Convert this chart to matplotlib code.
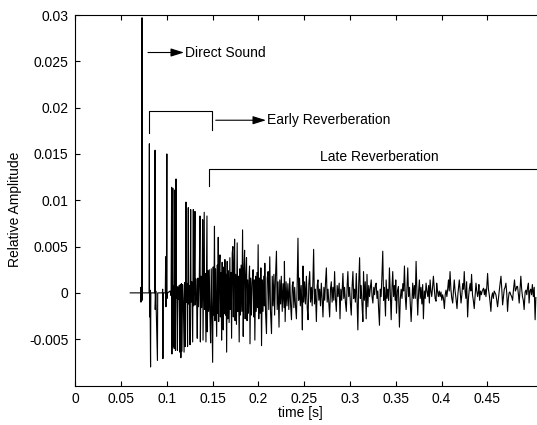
import numpy as np
import matplotlib
matplotlib.use("Agg")
import matplotlib.pyplot as plt

# times in ms, amplitudes in units of 1e-3
direct_ms = [60.0, 71.3, 71.6, 71.7, 72.0, 72.85, 72.9, 72.95, 73.3]
direct_amp = [0, 0, 0.6, -1.0, 0, 0, 29.7, -0.8, 0]

early = [
    (80.6, 0), (80.9, 16.1), (81.1, -2.6), (81.6, 0.3), (82.2, -8.0), (82.5, 0),
    (86.8, 0), (87.1, 15.4), (87.3, -1.8), (87.9, 0.2), (89.7, -7.3), (90.0, 0),
    (95.1, 0), (95.4, 0.4), (95.7, -7.1), (96.0, 0),
    (98.3, 0), (98.7, 3.9), (99.0, -1.5), (99.5, 0.3), (100.0, 15.0), (100.2, -0.6), (100.8, 0),
    (103.5, 0.2), (104.6, -0.3), (105.2, 11.4), (105.5, -6.6), (106.0, 0.6), (106.5, 11.3),
    (106.8, -5.8), (107.4, 0.8), (108.0, -6.0), (108.5, 11.1), (108.9, -0.8), (109.4, -6.2),
    (110.0, 12.3), (110.4, -0.6), (111.0, 0.7), (111.5, -6.2), (112.1, 0.6), (112.8, -0.7),
    (113.5, 0.8), (114.2, -6.4), (114.7, 0.9), (115.3, -7.0), (115.9, 1.0), (116.5, -6.3),
    (117.2, 0.9), (118.0, -0.9), (118.8, -6.4), (119.4, 1.1), (120.0, -5.8), (120.9, 9.8),
    (121.3, -1.0), (122.0, 1.0), (122.6, -5.8), (123.4, 9.2), (123.8, -1.2), (124.5, 0.8),
    (125.3, -5.6), (126.0, 9.0), (126.4, -1.0), (127.2, 1.2), (128.2, -5.3), (128.9, 9.0),
    (129.3, -1.4), (130.0, 1.3), (130.7, 8.8), (131.1, -1.3), (131.9, 1.5), (132.6, -1.2),
    (133.2, -4.9), (133.9, 1.6), (134.6, -1.5), (135.4, 1.4), (136.2, 8.3), (136.6, -5.3),
    (137.3, 1.8), (138.0, -1.6), (138.6, 2.0), (139.1, 7.9), (139.5, -5.1), (140.2, 1.9),
    (140.8, 8.7), (141.2, -1.8), (141.9, 2.1), (142.7, -5.3), (143.3, 1.8), (143.8, 8.3),
    (144.2, -4.2), (144.9, 2.4), (145.6, -2.0),
]

late_dense = [
    (146.3, 2.5), (147.0, -2.2), (147.8, -5.4), (148.5, 2.6), (149.2, -2.5), (150.0, -7.5),
    (150.6, 2.8), (151.3, -2.4), (152.0, 7.2), (152.5, -3.0), (153.2, 2.6), (154.0, -2.8),
    (154.4, -4.7), (155.1, 3.0), (155.6, -2.2), (156.1, 6.0), (156.6, -3.1), (157.3, 2.5),
    (158.0, 4.1), (158.5, -2.6), (159.2, 2.2), (159.8, -5.1), (160.4, 3.3), (161.0, -3.0),
    (161.6, -4.0), (162.3, 2.8), (162.9, -2.2), (163.4, 3.6), (164.0, -2.4), (164.6, 2.0),
    (165.3, -6.4), (165.9, 3.4), (166.5, -2.8), (167.2, 2.4), (168.0, -3.2), (168.8, 3.8),
    (169.4, -1.8), (170.0, 2.2), (170.7, -4.9), (171.4, 4.3), (172.1, 5.0), (172.6, -2.6),
    (173.3, 2.6), (174.0, 5.8), (174.5, -3.0), (175.2, 2.0), (176.0, -3.4), (176.8, 5.4),
    (177.4, -2.0), (178.2, 1.8), (179.0, -5.3), (179.7, 2.6), (180.4, -2.4), (181.1, 3.0),
    (181.9, -2.0), (182.7, 6.8), (183.4, -4.7), (184.1, 2.4), (184.9, 4.6), (185.5, -2.8),
    (186.2, 1.6), (187.0, 3.8), (187.6, -3.0), (188.3, 1.4), (189.1, -2.2), (189.8, 1.8),
    (190.3, 2.9), (190.8, -5.5), (191.6, 1.6), (192.4, -2.4), (193.2, 1.2), (194.2, 2.5),
    (194.9, -2.6), (195.5, 1.4), (196.1, -5.1), (196.9, 1.8), (197.6, -2.0), (198.4, 2.2),
    (199.0, -1.6), (199.7, 5.2), (200.4, -2.8), (201.2, 1.6), (202.0, -2.2), (202.7, 2.7),
    (203.4, -5.7), (204.2, 1.4), (205.0, -2.0), (205.8, 1.8), (206.5, -1.4), (207.0, 3.2),
    (207.8, -2.2), (208.8, -4.4), (209.6, 1.6), (210.6, 2.3), (211.3, -1.8), (212.4, 3.9),
    (213.2, -2.0), (214.3, -4.4), (215.1, 1.8), (216.0, -1.4), (216.9, 2.0), (217.7, -2.4),
    (218.6, 1.6), (219.7, 4.5), (220.5, -1.8), (221.4, 1.2), (222.5, -3.7), (223.3, 1.4),
    (224.2, -1.2), (225.0, 1.8), (226.0, -2.0), (226.9, 1.0), (228.0, -1.6), (228.4, 3.4),
    (229.2, -3.1), (230.2, 1.2), (231.2, -1.4), (232.2, 1.0), (233.2, -1.8), (234.2, 1.6),
    (235.1, -1.2), (236.1, -2.9), (237.0, 0.8), (237.8, 1.2), (238.7, -1.6), (239.6, 0.6),
    (240.5, -1.4), (241.5, -2.8), (242.4, 1.4), (243.2, 5.9), (244.0, -0.8), (244.9, 1.6),
    (245.8, -1.4), (246.7, 0.8), (247.5, -1.8), (248.0, -4.0), (248.7, 2.9), (249.5, -1.0),
    (250.4, 1.2), (251.3, -1.2), (252.4, 1.8), (253.3, -1.6), (254.2, -2.9), (255.1, 1.0),
    (256.0, 2.3), (256.9, -1.0), (257.8, 0.6), (258.7, -1.4), (259.5, 1.2),
]

late_tail = [
    (260.3, 4.7), (261.2, -1.2), (262.2, 0.4), (263.3, -3.1), (264.2, 0.8), (265.0, 1.4),
    (266.0, -0.8), (266.9, 0.4), (267.8, -1.4), (268.7, 1.05), (269.6, -0.6), (270.5, -2.6),
    (271.5, 0.6), (272.4, -0.8), (273.3, 1.2), (274.2, 2.7), (275.1, -1.0), (276.0, 0.4),
    (276.9, -1.2), (277.8, -2.6), (278.7, 0.4), (279.6, 1.2), (280.5, -1.0), (281.4, 0.6),
    (282.3, -0.8), (283.2, 2.3), (284.1, -0.6), (285.1, -2.0), (286.0, 0.8), (286.9, -0.4),
    (287.8, 0.6), (288.2, 1.05), (289.1, -2.8), (290.0, 0.4), (291.0, -0.8), (292.3, 2.1),
    (293.2, -0.6), (294.1, 0.6), (295.0, -1.0), (296.0, -2.0), (296.9, 0.8), (297.7, 2.3),
    (298.6, -0.4), (299.6, 0.6), (300.5, -1.2), (301.4, -2.4), (302.3, 0.6), (303.2, 2.3),
    (304.1, -0.6), (305.0, 0.4), (305.9, -1.0), (306.9, 2.1), (307.8, -1.2), (308.6, -4.0),
    (309.5, 0.8), (310.5, 3.8), (311.3, -0.6), (312.2, 0.8), (313.2, -1.4), (314.1, -3.1),
    (314.8, 2.3), (315.7, -0.8), (316.7, 1.2), (317.7, -2.8), (318.6, 2.0), (319.5, -1.5),
    (320.5, 0.8), (321.4, -0.4), (322.3, 0.6), (323.2, 1.4), (324.1, -0.4), (325.0, -1.1),
    (326.0, 0.6), (326.9, -0.2), (327.7, 0.8), (328.6, 1.05), (329.5, -0.6), (330.4, 0.2),
    (331.3, -1.8), (332.2, -3.5), (333.1, 0.4), (334.0, -0.4), (334.9, 1.8), (335.8, 4.5),
    (336.7, -0.8), (337.6, 0.6), (338.8, -2.5), (339.5, 1.4), (340.4, -0.6), (341.3, 0.4),
    (342.2, -0.8), (343.1, 2.7), (344.0, 0.2), (345.0, -2.9), (345.9, 0.6), (346.7, 2.3),
    (347.6, -0.4), (348.5, 0.8), (349.4, -0.8), (350.0, 1.4), (350.8, -2.2), (351.8, 0.2),
    (352.9, 0.7), (354.0, -3.7), (355.0, -0.6), (355.9, 0.4), (356.8, -0.6), (357.7, 1.0),
    (358.6, 0.2), (359.5, 2.9), (360.4, -0.4), (361.3, -1.8), (362.2, 0.6), (363.1, 2.7),
    (364.0, -0.4), (365.0, 0.6), (365.9, -1.2), (366.8, -3.1), (367.7, -0.8), (368.5, 1.05),
    (369.4, -0.6), (370.3, 0.8), (371.3, -0.6), (372.2, 3.4), (373.1, 0.2), (374.0, -2.4),
    (375.0, 0.2), (375.8, 1.4), (376.7, -0.6), (377.6, 0.6), (378.5, -1.2), (379.4, 0.9),
    (380.2, -2.8), (381.2, 0.2), (382.2, -0.6), (383.1, 1.05), (384.0, 0.2), (385.0, -0.4),
    (385.9, 0.8), (386.7, -1.1), (387.5, 1.4), (388.4, 0.2), (389.3, -0.4), (390.2, 0.6),
    (391.1, 1.8), (392.1, 0.4), (393.0, -0.6), (394.0, -0.9), (394.7, 1.05), (395.6, 0.2),
    (396.5, -0.4), (397.5, 0.2), (398.4, -0.4), (399.4, 0.1), (400.3, -0.8), (401.2, -0.2),
    (402.1, -0.6), (403.1, -1.7), (404.0, -0.2), (404.9, 0.3), (405.8, -0.4), (406.7, 0.4),
    (407.6, 1.4), (408.4, 0.2), (409.3, 2.3), (410.2, 0.4), (411.2, -0.6), (412.2, -1.1),
    (413.0, 0.2), (413.9, 1.4), (414.8, 0.2), (415.8, -0.6), (416.9, -1.7), (417.8, -0.2),
    (418.6, 0.6), (419.4, 1.4), (420.4, 0.0), (421.3, -1.1), (422.2, -0.2), (423.1, 1.0),
    (424.0, 0.4), (424.8, 2.3), (425.7, 0.2), (426.6, -0.6), (427.4, 1.2), (428.5, -2.6),
    (429.4, -0.6), (430.3, 0.4), (431.2, 1.0), (432.0, 0.2), (432.8, 2.0), (433.8, -0.2),
    (434.7, -0.8), (435.7, -1.7), (436.6, -0.4), (437.6, 1.05), (438.5, 0.2), (439.4, -0.4),
    (440.3, 0.2), (440.8, 0.9), (441.6, -0.8), (442.5, 0.2), (443.5, -0.2), (444.4, 0.2),
    (445.9, 0.5), (446.8, -0.2), (447.7, 0.4), (448.5, -0.4), (449.4, 0.6), (450.3, 2.1),
    (451.2, 0.4), (452.1, -0.2), (453.0, -1.0), (453.9, -2.0), (454.8, -0.4), (455.7, 0.0),
    (456.6, -0.6), (457.5, 0.2), (458.4, 0.0), (459.4, -0.2), (460.3, -0.8), (461.2, -1.5),
    (462.1, -0.6), (463.0, 0.2), (463.9, 1.0), (464.9, 1.8), (465.8, 0.4), (466.7, -1.3),
    (467.6, -0.4), (468.5, 0.4), (469.4, 0.6), (470.3, 1.05), (471.2, 0.0), (472.1, -2.0),
    (473.0, -0.6), (473.8, 0.0), (474.6, 0.1), (475.6, -0.2), (476.6, -0.4), (477.6, -0.8),
    (478.6, 0.4), (479.7, 1.4), (480.6, 0.2), (481.5, 0.4), (482.2, 0.7), (483.0, 0.7),
    (484.0, -0.2), (484.8, -1.1), (485.7, 0.4), (486.6, 1.8), (487.5, 0.4), (488.4, -0.4),
    (489.3, -0.8), (490.2, -1.8), (491.3, 0.1), (492.2, 0.3), (493.1, -0.2), (494.0, 0.6),
    (494.9, 1.05), (495.6, -1.1), (496.5, 0.2), (497.4, 0.4), (498.3, -0.2), (499.2, 0.9),
    (500.2, -0.4), (501.2, 0.6), (502.2, -2.9), (503.0, -0.5),
]

x_ticks = [0, 0.05, 0.1, 0.15, 0.2, 0.25, 0.3, 0.35, 0.4, 0.45]
x_tick_labels = ["0", "0.05", "0.1", "0.15", "0.2", "0.25", "0.3", "0.35", "0.4", "0.45"]
y_ticks = [-0.005, 0, 0.005, 0.01, 0.015, 0.02, 0.025, 0.03]
y_tick_labels = ["-0.005", "0", "0.005", "0.01", "0.015", "0.02", "0.025", "0.03"]

plt.rcParams["font.family"] = ["Liberation Sans", "DejaVu Sans"]
FS = 10

pts = np.array(early + late_dense + late_tail)
t = np.concatenate([direct_ms, pts[:, 0]]) / 1000.0
amp = np.concatenate([direct_amp, pts[:, 1]]) / 1000.0

W, H = 537, 425
fig = plt.figure(figsize=(W / 100, H / 100), dpi=100)
left, right, top, bottom = 75.3, 538, 15, 385.5
ax = fig.add_axes([left / W, (H - bottom) / H, (right - left) / W, (bottom - top) / H])

ax.plot(t, amp, color="black", lw=0.8)

ax.set_xlim(0, (right - left) / 915.6)
ax.set_ylim(-0.01, 0.03)
ax.set_xticks(x_ticks)
ax.set_xticklabels(x_tick_labels)
ax.set_yticks(y_ticks)
ax.set_yticklabels(y_tick_labels)
ax.tick_params(direction="in", length=3.6, width=0.8, top=True, right=False,
               labelsize=FS, pad=5)
for s in ax.spines.values():
    s.set_linewidth(0.8)
ax.spines["right"].set_visible(False)

ax.set_xlabel("time [s]", fontsize=FS)
ax.xaxis.set_label_coords((300.5 - left) / (right - left), -0.055)
ax.set_ylabel("Relative Amplitude", fontsize=FS)
ax.yaxis.set_label_coords(-0.115, 0.475)

# annotation helpers: pixel placement converted to data units
def px_x(px):
    return (px - left) / 915.6

def px_y(py):
    return (293.3 - py) * 0.005 / 46.3

arrow_kw = dict(arrowstyle="-|>,head_length=0.8,head_width=0.25", color="black",
                lw=0.8, mutation_scale=10, shrinkA=0, shrinkB=0)

# direct sound
ax.annotate("", xy=(px_x(184), px_y(53)), xytext=(px_x(148), px_y(53)), arrowprops=arrow_kw)
ax.text(px_x(185), px_y(53), "Direct Sound", fontsize=FS, va="center", ha="left")

# early reverberation bracket
ax.plot([px_x(148.5), px_x(148.5), px_x(212), px_x(212)],
        [px_y(133), px_y(111.5), px_y(111.5), px_y(130)], color="black", lw=0.8)
ax.annotate("", xy=(px_x(266), px_y(120.7)), xytext=(px_x(215.7), px_y(120.7)), arrowprops=arrow_kw)
ax.text(px_x(267), px_y(120.7), "Early Reverberation", fontsize=FS, va="center", ha="left")

# late reverberation bracket
ax.plot([px_x(209), px_x(209), px_x(560)],
        [px_y(186), px_y(169.5), px_y(169.5)], color="black", lw=0.8)
ax.text(px_x(320), px_y(157.5), "Late Reverberation", fontsize=FS, va="center", ha="left")

fig.savefig("out.png", dpi=100)
